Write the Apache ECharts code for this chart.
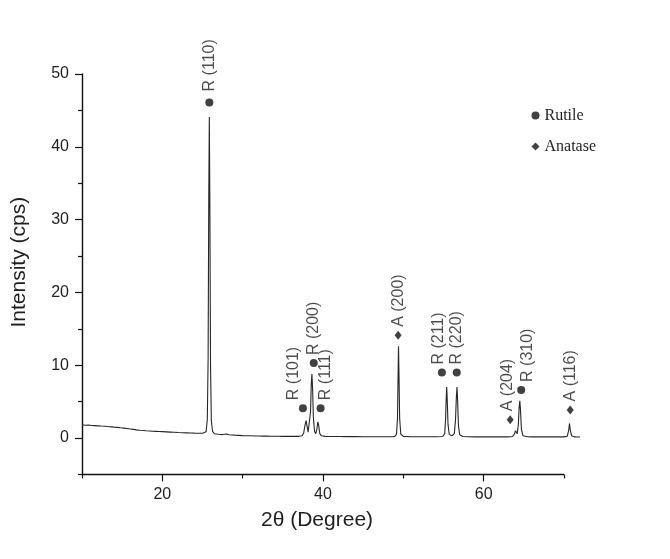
<!DOCTYPE html>
<html><head><meta charset="utf-8">
<script src="https://cdn.jsdelivr.net/npm/echarts@6/dist/echarts.min.js"></script>
<style>html,body{margin:0;background:#fff}#c{width:670px;height:559px}</style>
</head><body><div id="c"></div>
<script>
// ---- data ----
const twoTheta = [10.0,10.4,10.8,11.2,11.6,12.0,12.4,12.8,13.2,13.6,14.0,14.4,14.8,15.2,15.6,16.0,16.4,16.8,17.2,17.6,18.0,18.4,18.8,19.2,19.6,20.0,20.5,21.0,21.5,22.0,22.5,23.0,23.5,24.0,24.5,25.0,
  25.45,25.6,25.7,25.78,25.85,25.92,26.0,26.1,26.25,26.5,27.0,27.5,28.0,28.3,29.0,29.5,30.0,30.5,31.0,31.5,32.0,32.5,33.0,33.5,34.0,34.5,35.0,35.5,36.0,36.5,37.0,
  37.4,37.6,37.75,37.9,38.02,38.15,38.3,38.45,38.54,38.62,38.7,38.8,38.95,39.1,39.25,39.35,39.45,39.6,39.8,40.3,41.0,42.0,43.0,44.0,45.0,46.0,47.0,48.0,
  48.9,49.15,49.27,49.34,49.4,49.46,49.54,49.68,50.0,51.0,52.0,53.0,54.0,
  54.9,55.15,55.26,55.34,55.4,55.46,55.56,55.72,56.05,56.35,56.5,56.6,56.68,56.75,56.86,57.02,57.4,58.0,59.0,60.0,61.0,62.0,63.0,
  63.6,63.85,63.95,64.05,64.18,64.32,64.42,64.5,64.58,64.7,64.9,65.5,66.0,67.0,68.0,69.0,70.0,70.4,70.58,70.68,70.78,70.95,71.3,71.7,72.0];
const intensity = [1.82,1.76,1.79,1.72,1.70,1.67,1.64,1.62,1.57,1.53,1.49,1.46,1.40,1.36,1.30,1.24,1.18,1.12,1.07,1.03,0.99,0.96,0.93,0.91,0.89,0.87,0.84,0.81,0.78,0.75,0.73,0.71,0.69,0.67,0.66,0.66,
  0.85,2.6,11,33,44.1,31,10,2.4,0.9,0.58,0.52,0.47,0.55,0.44,0.39,0.36,0.33,0.31,0.30,0.28,0.27,0.26,0.26,0.25,0.24,0.24,0.23,0.22,0.22,0.22,0.23,
  0.3,0.7,1.7,2.4,1.6,0.8,0.9,3.6,7.4,8.8,6.9,2.9,0.9,0.6,1.3,2.2,1.8,0.6,0.3,0.22,0.2,0.2,0.19,0.19,0.18,0.18,0.17,0.17,
  0.19,0.5,2.6,8.2,12.6,8.6,2.7,0.55,0.22,0.18,0.17,0.17,0.17,
  0.2,0.6,2.6,5.6,7.0,5.4,1.9,0.5,0.3,0.6,2.6,5.6,7.0,5.3,1.7,0.45,0.2,0.17,0.16,0.16,0.15,0.15,0.15,
  0.2,0.6,1.0,0.75,0.6,1.9,4.3,5.1,3.9,1.2,0.3,0.18,0.16,0.15,0.15,0.15,0.15,0.25,1.0,2.0,1.1,0.3,0.15,0.14,0.13];

const rutileNames = ['R (110)','R (101)','R (200)','R (111)','R (211)','R (220)','R (310)'];
const rutileX = [25.85,37.5,38.85,39.7,54.8,56.65,64.67];
const rutileY = [46.1,4.1,10.3,4.1,9.0,9.0,6.6];
const anataseNames = ['A (200)','A (204)','A (116)'];
const anataseX = [49.35,63.3,70.77];
const anataseY = [14.1,2.5,3.85];

const xTickLabels = [20,40,60];
const xMinorTicks = [10,30,50,70];
const xAxisEnds = [10,70];
const yTickLabels = [0,10,20,30,40,50];
const yMinorTicks = [-5,5,15,25,35,45];

// ---- styling (label shifts in screen px, not data) ----
const labelShift = {'R (101)':-9,'R (111)':5,'R (211)':-3,'R (310)':6,'A (204)':-3};
const labelDist = {'R (110)':6};

const FONT = 'Liberation Sans, Arial, sans-serif';
const TXT = '#1e1e1e';

function markData(names, xs, ys){
  return names.map((n,i)=>({
    name:n, value:[xs[i], ys[i]],
    label:{offset:[labelDist[n]||3, labelShift[n]||0]}
  }));
}
const markLabel = {
  show:true, position:'top', distance:1, rotate:90, align:'left', verticalAlign:'middle',
  formatter:p=>p.name, fontFamily:FONT, fontSize:16, color:TXT
};

const chart = echarts.init(document.getElementById('c'), null, {renderer:'canvas'});
chart.setOption({
  backgroundColor:'#ffffff',
  animation:false,
  grid:{left:82, top:74, right:89.93, bottom:84.6, containLabel:false},
  legend:{
    orient:'vertical', left:526.5, top:102.5, itemGap:15, itemWidth:8, itemHeight:8,
    textStyle:{fontFamily:'Liberation Serif, Times New Roman, serif', fontSize:16, color:TXT},
    data:[{name:'Rutile', icon:'circle'},{name:'Anatase', icon:'diamond'}]
  },
  xAxis:[{
    type:'value', min:10, max:72, interval:10,
    name:'2θ (Degree)', nameLocation:'middle', nameGap:35,
    nameTextStyle:{fontFamily:FONT, fontSize:21, color:TXT, padding:[0,28,0,0]},
    axisLine:{show:false, onZero:false},
    axisTick:{show:true, customValues:xTickLabels, length:7, lineStyle:{color:'#111', width:1.2}},
    axisLabel:{customValues:xTickLabels, margin:12, fontFamily:FONT, fontSize:16, color:TXT},
    splitLine:{show:false}
  },{
    type:'value', min:10, max:72, interval:10, position:'bottom',
    axisLine:{show:false, onZero:false},
    axisTick:{show:true, customValues:xMinorTicks, length:4, lineStyle:{color:'#111', width:1.2}},
    axisLabel:{show:false}, splitLine:{show:false}
  }],
  yAxis:[{
    type:'value', min:-5, max:50, interval:5,
    name:'Intensity (cps)', nameLocation:'middle', nameGap:52,
    nameTextStyle:{fontFamily:FONT, fontSize:21, color:TXT, padding:[0,0,0,24]},
    axisLine:{show:true, onZero:false, lineStyle:{color:'#111', width:1.4}},
    axisTick:{show:true, customValues:yTickLabels, length:7, lineStyle:{color:'#111', width:1.2}},
    axisLabel:{customValues:yTickLabels, margin:13, fontFamily:FONT, fontSize:16, color:TXT},
    splitLine:{show:false}
  },{
    type:'value', min:-5, max:50, interval:5, position:'left',
    axisLine:{show:false, onZero:false},
    axisTick:{show:true, customValues:yMinorTicks, length:4, lineStyle:{color:'#111', width:1.2}},
    axisLabel:{show:false}, splitLine:{show:false}
  }],
  series:[{
    type:'line', name:'pattern', showSymbol:false, symbol:'none',
    data:twoTheta.map((t,i)=>[t,intensity[i]]),
    lineStyle:{color:'#262626', width:1.1}, z:2,
    markLine:{
      silent:true, symbol:'none', label:{show:false}, animation:false,
      lineStyle:{color:'#111', width:1.4, type:'solid'},
      data:[[{coord:[xAxisEnds[0],-5]},{coord:[xAxisEnds[1],-5]}]]
    }
  },{
    type:'scatter', name:'Rutile', clip:false, symbol:'circle', symbolSize:8,
    itemStyle:{color:'#111'}, label:markLabel,
    data:markData(rutileNames, rutileX, rutileY), z:3
  },{
    type:'scatter', name:'Anatase', clip:false, symbol:'diamond', symbolSize:[7,9],
    itemStyle:{color:'#111'}, label:markLabel,
    data:markData(anataseNames, anataseX, anataseY), z:3
  }]
});
</script></body></html>
